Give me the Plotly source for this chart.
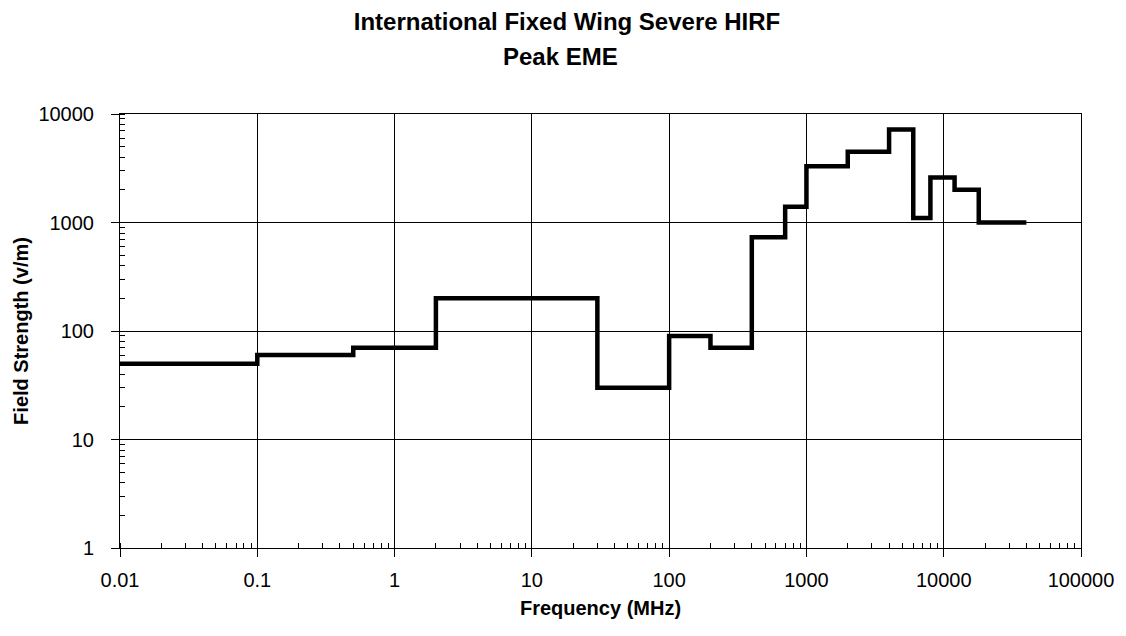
import plotly.graph_objects as go

# Band start frequencies (MHz) and peak field strength (V/m)
band_start_mhz = [0.01, 0.1, 0.5, 2, 30, 100, 200, 400, 700, 1000, 2000, 4000, 6000, 8000, 12000, 18000]
band_end_mhz = 40000
peak_field_vm = [50, 60, 70, 200, 30, 90, 70, 730, 1400, 3300, 4500, 7200, 1100, 2600, 2000, 1000]

x_tick_vals = [0.01, 0.1, 1, 10, 100, 1000, 10000, 100000]
x_tick_text = ["0.01", "0.1", "1", "10", "100", "1000", "10000", "100000"]
y_tick_vals = [1, 10, 100, 1000, 10000]
y_tick_text = ["1", "10", "100", "1000", "10000"]

xs = band_start_mhz + [band_end_mhz]
ys = peak_field_vm + [peak_field_vm[-1]]

fig = go.Figure()
fig.add_trace(go.Scatter(
    x=xs, y=ys, mode="lines", line_shape="hv",
    line=dict(color="black", width=4.5), showlegend=False,
))

font_family = "Liberation Sans, Arial, sans-serif"

fig.update_layout(
    width=1118, height=628,
    margin=dict(l=109, r=43, t=106, b=88),
    paper_bgcolor="white", plot_bgcolor="white",
    font=dict(family=font_family, color="black"),
    title=dict(
        text="<b>International Fixed Wing Severe HIRF</b>",
        x=0.5, xanchor="center", xref="container",
        y=1 - 14 / 628, yanchor="middle", yref="container",
        font=dict(size=24, family=font_family, color="black"),
    ),
    annotations=[dict(
        text="<b>Peak EME</b>", xref="paper", yref="paper",
        x=(552 - 109) / 966, y=1 + (106 - 49) / 434, xanchor="center", yanchor="middle",
        showarrow=False, font=dict(size=24, family=font_family, color="black"),
    )],
)

fig.update_xaxes(
    type="log", range=[-2, 5],
    tickvals=x_tick_vals, ticktext=x_tick_text,
    ticks="outside", ticklen=8, tickwidth=1, tickcolor="black",
    ticklabelstandoff=6,
    tickfont=dict(size=20, family=font_family),
    showgrid=True, gridcolor="black", gridwidth=1,
    showline=True, linecolor="black", linewidth=1, mirror=True,
    zeroline=False,
    minor=dict(ticks="inside", ticklen=5, tickcolor="black", dtick="D1", showgrid=False),
    title=dict(text="<b>Frequency (MHz)</b>", font=dict(size=20, family=font_family), standoff=10),
)
fig.update_yaxes(
    type="log", range=[0, 4],
    tickvals=y_tick_vals, ticktext=y_tick_text,
    ticks="outside", ticklen=8, tickwidth=1, tickcolor="black",
    ticklabelstandoff=13,
    tickfont=dict(size=20, family=font_family),
    showgrid=True, gridcolor="black", gridwidth=1,
    showline=True, linecolor="black", linewidth=1, mirror=True,
    zeroline=False,
    minor=dict(ticks="inside", ticklen=5, tickcolor="black", dtick="D1", showgrid=False),
    title=dict(text="<b>Field Strength (v/m)</b>", font=dict(size=20, family=font_family), standoff=4),
)

fig.write_html("out.html")
